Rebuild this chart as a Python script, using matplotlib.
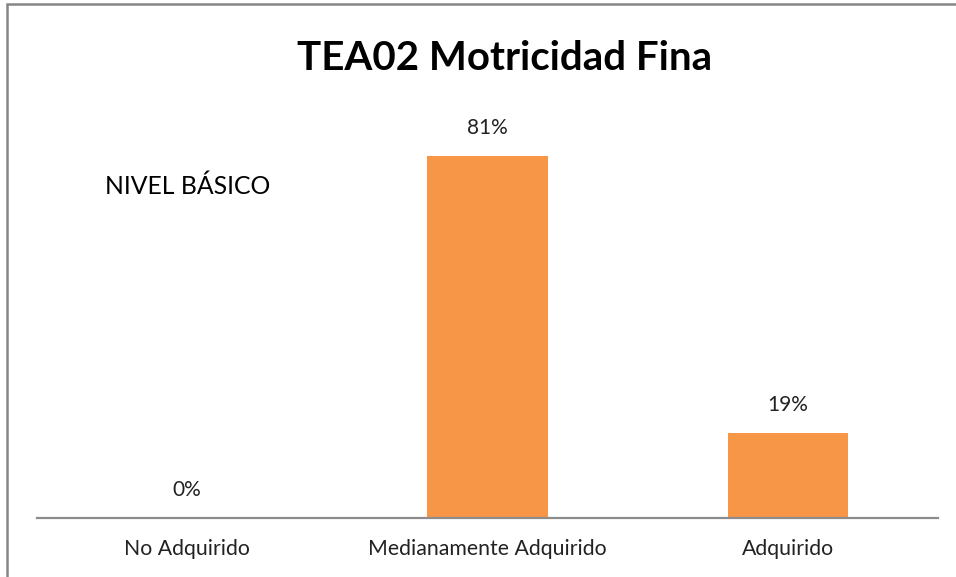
import matplotlib.pyplot as plt
from matplotlib.patches import Rectangle

categories = ['No Adquirido', 'Medianamente Adquirido', 'Adquirido']
values = [0.0, 0.81, 0.19]
value_labels = ['0%', '81%', '19%']

plt.rcParams['font.family'] = ['Lato', 'DejaVu Sans']

fig = plt.figure(figsize=(9.56, 5.77), dpi=100)
ax = fig.add_axes([37 / 956, 59 / 577, 901 / 956, 447 / 577])

x = range(len(categories))
ax.bar(x, values, width=0.4, color='#F79646')
for xi, v, lab in zip(x, values, value_labels):
    ax.annotate(lab, (xi, v), xytext=(0, 20), textcoords='offset points',
                ha='center', va='center', fontsize=15, color='#222222')

ax.set_xlim(-0.5, 2.5)
ax.set_ylim(0, 1.0)
ax.set_xticks(list(x))
ax.set_xticklabels(categories, fontsize=15.3, color='#222222')
ax.tick_params(axis='x', length=0, pad=15)
ax.set_yticks([])
for s in ['top', 'right', 'left']:
    ax.spines[s].set_visible(False)
ax.spines['bottom'].set_color('#8c8c8c')
ax.spines['bottom'].set_linewidth(1.6)

fig.text(505 / 956, 1 - 58 / 577, 'TEA02 Motricidad Fina', ha='center', va='center',
         fontsize=29, fontweight='bold', color='black')
fig.text(105 / 956, 1 - 186 / 577, 'NIVEL BÁSICO', ha='left', va='center',
         fontsize=17.8, color='black')

# outer chart border (only left and top visible in the crop)
fig.patches.append(Rectangle((7 / 956, -0.1), 1.2, 1.1 - 4 / 577,
                             transform=fig.transFigure, fill=False,
                             edgecolor='#868686', linewidth=1.8))

fig.savefig('out.png', dpi=100, facecolor='white')
